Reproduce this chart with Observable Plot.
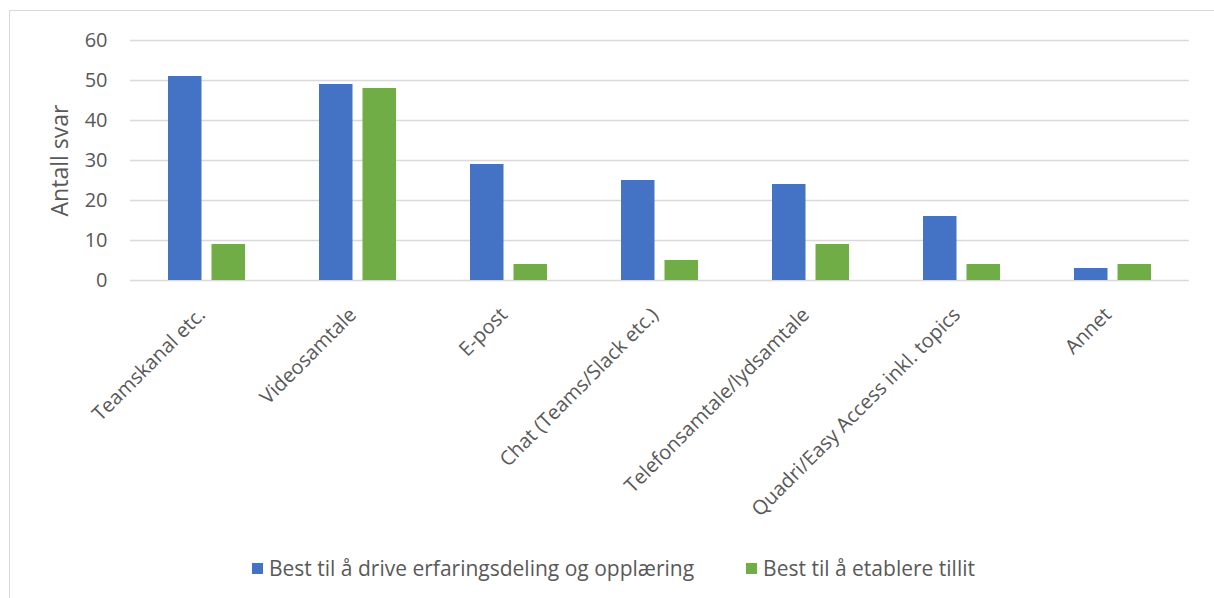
<!DOCTYPE html>
<html>
<head>
<meta charset="utf-8">
<script src="https://cdn.jsdelivr.net/npm/d3@7"></script>
<script src="https://cdn.jsdelivr.net/npm/@observablehq/plot@0.6"></script>
<style>
  html, body { margin: 0; padding: 0; background: #fff; }
  #wrap { position: relative; width: 1214px; height: 598px; overflow: hidden; font-family: "Open Sans", sans-serif; }
  #border { position: absolute; left: 9px; top: 10px; width: 1220px; height: 600px; border: 1px solid #d9d9d9; box-sizing: border-box; }
  #chart { position: absolute; left: 0; top: 0; }
  #legend { position: absolute; left: 252px; top: 554px; display: flex; align-items: center; font-size: 21px; color: #595959; white-space: nowrap; }
  .item { display: flex; align-items: center; margin-right: 52px; }
  .sw { width: 11px; height: 11px; margin-right: 6px; }
</style>
</head>
<body>
<div id="wrap">
  <div id="border"></div>
  <div id="chart"></div>
  <div id="legend"></div>
</div>
<script>
const categories = [
  "Teamskanal etc.",
  "Videosamtale",
  "E-post",
  "Chat (Teams/Slack etc.)",
  "Telefonsamtale/lydsamtale",
  "Quadri/Easy Access inkl. topics",
  "Annet"
];
const seriesNames = [
  "Best til å drive erfaringsdeling og opplæring",
  "Best til å etablere tillit"
];
const erfaringsdeling = [51, 49, 29, 25, 24, 16, 3];
const tillit = [9, 48, 4, 5, 9, 4, 4];
const yTicks = [0, 10, 20, 30, 40, 50, 60];
const colors = ["#4472c4", "#70ad47"];

const rowsA = categories.map((c, i) => ({category: c, value: erfaringsdeling[i]}));
const rowsB = categories.map((c, i) => ({category: c, value: tillit[i]}));

// each category band holds two bars of 34px with a ~9.5px gap
const barInset = 43.5;

const chart = Plot.plot({
  width: 1214,
  height: 548,
  marginLeft: 130,
  marginRight: 25,
  marginTop: 40,
  marginBottom: 268,
  style: {fontFamily: "Open Sans, sans-serif", color: "#595959", background: "transparent"},
  x: {domain: categories, paddingInner: 0.488, paddingOuter: 0.244, label: null},
  y: {domain: [0, 60], label: null},
  marks: [
    Plot.ruleY(yTicks, {stroke: "#d9d9d9", strokeWidth: 1.3}),
    Plot.barY(rowsA, {x: "category", y: "value", fill: colors[0], insetRight: barInset}),
    Plot.barY(rowsB, {x: "category", y: "value", fill: colors[1], insetLeft: barInset}),
    Plot.axisY({ticks: yTicks, tickSize: 0, tickPadding: 23, fontSize: 20, label: null}),
    Plot.axisX({tickSize: 0, tickPadding: 25, tickRotate: -45, fontSize: 20, dx: -5, dy: 6, label: null}),
    Plot.text(["Antall svar"], {frameAnchor: "left", textAnchor: "middle", dx: -70, rotate: -90, fontSize: 23, fill: "#595959"})
  ]
});
document.getElementById("chart").appendChild(chart);

const legend = document.getElementById("legend");
seriesNames.forEach((name, i) => {
  const item = document.createElement("div");
  item.className = "item";
  const sw = document.createElement("span");
  sw.className = "sw";
  sw.style.background = colors[i];
  const label = document.createElement("span");
  label.textContent = name;
  item.appendChild(sw);
  item.appendChild(label);
  legend.appendChild(item);
});
</script>
</body>
</html>
